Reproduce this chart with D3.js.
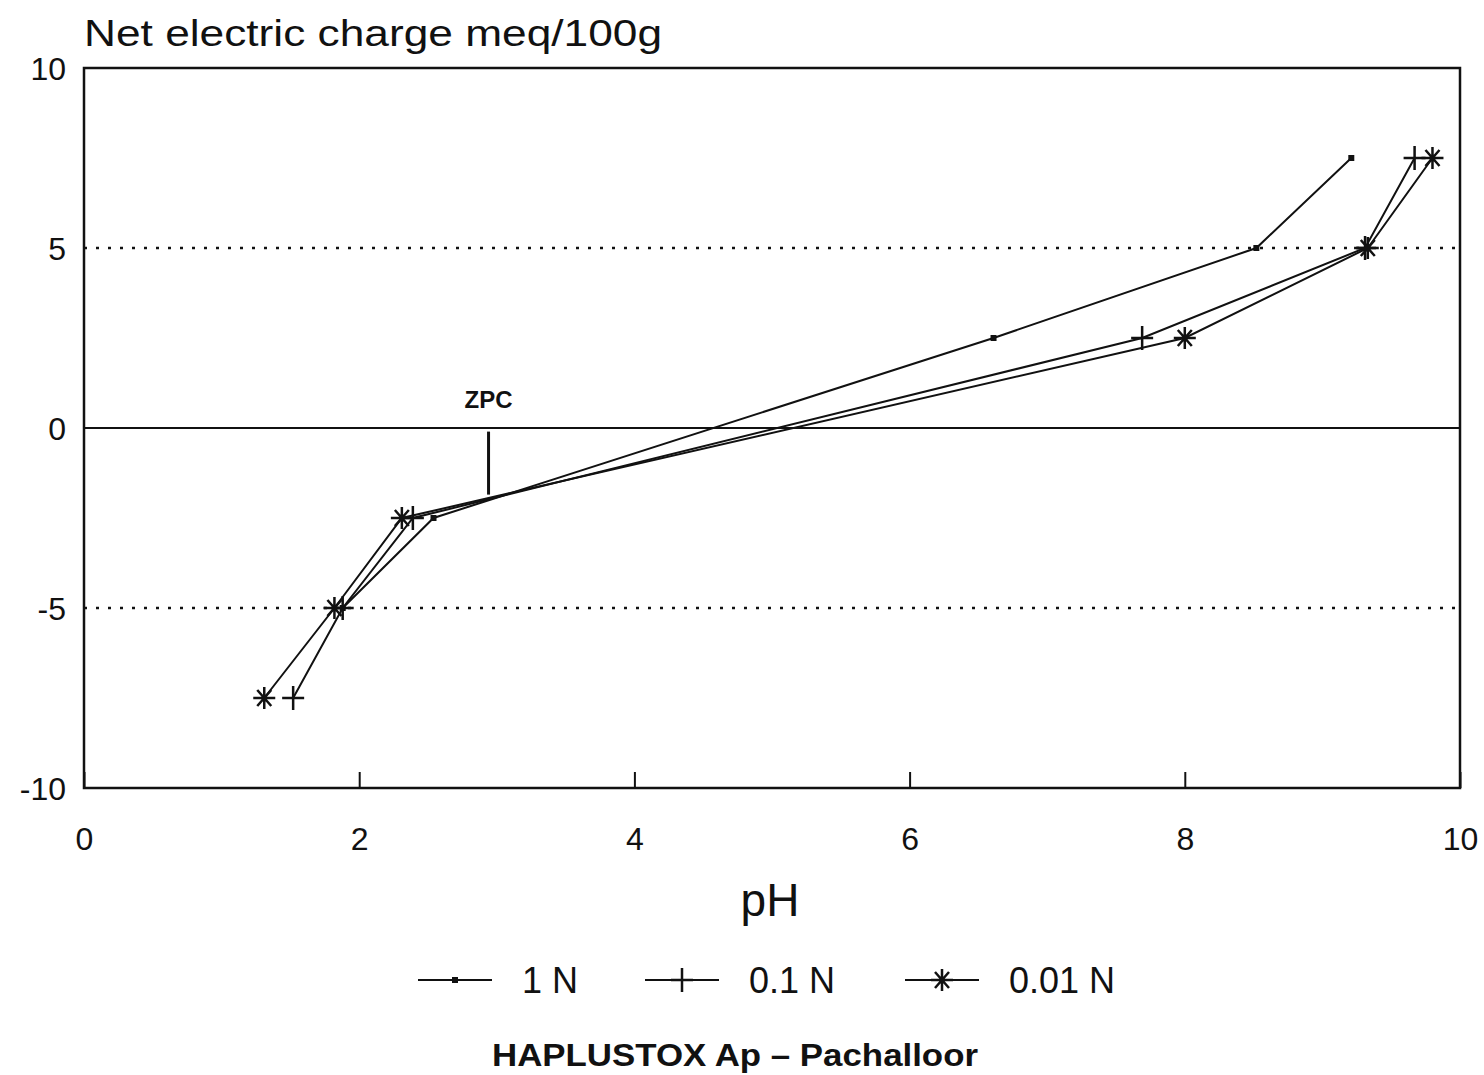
<!DOCTYPE html>
<html>
<head>
<meta charset="utf-8">
<script src="https://cdn.jsdelivr.net/npm/d3@7"></script>
<style>
  body { margin: 0; background: #fff; }
  text { font-family: "Liberation Sans", Arial, sans-serif; fill: #111; }
</style>
</head>
<body>
<svg id="chart"></svg>
<script>
// values (pH, net charge)
const charges = [-7.5, -5, -2.5, 2.5, 5, 7.5];
const ph1N = [null, 1.88, 2.54, 6.61, 8.52, 9.21];
const ph01N = [1.52, 1.88, 2.39, 7.69, 9.31, 9.67];
const ph001N = [1.31, 1.82, 2.31, 8.0, 9.33, 9.80];
const seriesNames = ['1 N', '0.1 N', '0.01 N'];
const xTicks = [0, 2, 4, 6, 8, 10];
const yTicks = [10, 5, 0, -5, -10];
const dottedLevels = [5, -5];
const zpc = { ph: 2.94, top: -0.1, bottom: -1.85 };

const width = 1484, height = 1075;
const margin = { top: 68, right: 24, bottom: 287, left: 84 };
const w = 1460 - margin.left, h = 788 - margin.top;

const xScale = d3.scaleLinear().domain([0, 10]).range([0, w]);
const yScale = d3.scaleLinear().domain([-10, 10]).range([h, 0]);

const svg = d3.select('#chart')
    .attr('width', width)
    .attr('height', height);
const g = svg.append('g')
    .attr('transform', `translate(${margin.left}, ${margin.top})`);

const toPoints = (phs) => phs.map((p, i) => ({ x: p, y: charges[i] })).filter(d => d.x != null);
const series = [
    { name: seriesNames[0], pts: toPoints(ph1N), marker: 'dot' },
    { name: seriesNames[1], pts: toPoints(ph01N), marker: 'plus' },
    { name: seriesNames[2], pts: toPoints(ph001N), marker: 'star' },
];

// reference lines
g.selectAll('.dotline')
    .data(dottedLevels)
    .enter()
    .append('line')
    .attr('x1', 0).attr('x2', w)
    .attr('y1', d => yScale(d)).attr('y2', d => yScale(d))
    .attr('stroke', '#111')
    .attr('stroke-width', 2.5)
    .attr('stroke-dasharray', '3 9');

g.append('line')
    .attr('x1', 0).attr('x2', w)
    .attr('y1', yScale(0)).attr('y2', yScale(0))
    .attr('stroke', '#111')
    .attr('stroke-width', 2);

// x axis ticks (inward)
const xAxis = d3.axisBottom(xScale).tickValues(xTicks).tickSize(-16).tickFormat(d => d);
const xg = g.append('g')
    .attr('transform', `translate(0, ${h})`)
    .call(xAxis);
xg.select('.domain').remove();
xg.selectAll('line').attr('stroke', '#111').attr('stroke-width', 2);
xg.selectAll('text')
    .attr('dy', 0)
    .attr('y', 62)
    .style('font-size', '32px')
    .style('font-family', '"Liberation Sans", Arial, sans-serif')
    .attr('fill', '#111');

const yAxis = d3.axisLeft(yScale).tickValues(yTicks).tickSize(0).tickFormat(d => d);
const yg = g.append('g').call(yAxis);
yg.select('.domain').remove();
yg.selectAll('text')
    .attr('x', -18)
    .attr('dy', '0.36em')
    .style('font-size', '32px')
    .style('font-family', '"Liberation Sans", Arial, sans-serif')
    .attr('fill', '#111');

// frame
g.append('rect')
    .attr('width', w).attr('height', h)
    .attr('fill', 'none')
    .attr('stroke', '#111')
    .attr('stroke-width', 2.5);

// ZPC marker
g.append('line')
    .attr('x1', xScale(zpc.ph)).attr('x2', xScale(zpc.ph))
    .attr('y1', yScale(zpc.top)).attr('y2', yScale(zpc.bottom))
    .attr('stroke', '#111')
    .attr('stroke-width', 3);
g.append('text')
    .attr('x', xScale(zpc.ph))
    .attr('y', yScale(0) - 20)
    .attr('text-anchor', 'middle')
    .style('font-size', '24px')
    .style('font-weight', 'bold')
    .text('ZPC');

const line = d3.line().x(d => xScale(d.x)).y(d => yScale(d.y));

function drawMarker(sel, type) {
    if (type === 'dot') {
        sel.append('rect').attr('x', -3).attr('y', -3).attr('width', 6).attr('height', 6).attr('fill', '#111');
    } else if (type === 'plus') {
        sel.append('path').attr('d', 'M-11,0H11M0,-12V12')
            .attr('stroke', '#111').attr('stroke-width', 2.5).attr('fill', 'none');
    } else {
        sel.append('path').attr('d', 'M-11,0H11M0,-11V11M-7,-8L7,8M-7,8L7,-8')
            .attr('stroke', '#111').attr('stroke-width', 2.5).attr('fill', 'none');
    }
}

series.forEach(s => {
    g.append('path')
        .datum(s.pts)
        .attr('d', line)
        .attr('fill', 'none')
        .attr('stroke', '#111')
        .attr('stroke-width', 2);
    g.selectAll(null)
        .data(s.pts)
        .enter()
        .append('g')
        .attr('transform', d => `translate(${xScale(d.x)}, ${yScale(d.y)})`)
        .each(function () { drawMarker(d3.select(this), s.marker); });
});

// axis titles
svg.append('text')
    .attr('x', 84)
    .attr('y', 46)
    .style('font-size', '37px')
    .attr('textLength', 578)
    .attr('lengthAdjust', 'spacingAndGlyphs')
    .text('Net electric charge meq/100g');

svg.append('text')
    .attr('x', 770)
    .attr('y', 916)
    .attr('text-anchor', 'middle')
    .style('font-size', '46px')
    .text('pH');

// legend
const legendX = [418, 645, 905];
const legend = svg.append('g').attr('transform', 'translate(0, 980)');
series.forEach((s, i) => {
    const lg = legend.append('g').attr('transform', `translate(${legendX[i]}, 0)`);
    lg.append('line').attr('x1', 0).attr('x2', 74).attr('y1', 0).attr('y2', 0)
        .attr('stroke', '#111').attr('stroke-width', 2);
    const m = lg.append('g').attr('transform', 'translate(37, 0)');
    drawMarker(m, s.marker);
    lg.append('text')
        .attr('x', 104)
        .attr('y', 13)
        .style('font-size', '36px')
        .text(s.name);
});

svg.append('text')
    .attr('x', 492)
    .attr('y', 1066)
    .style('font-weight', 'bold')
    .style('font-size', '32px')
    .attr('textLength', 486)
    .attr('lengthAdjust', 'spacingAndGlyphs')
    .text('HAPLUSTOX Ap \u2013 Pachalloor');
</script>
</body>
</html>
